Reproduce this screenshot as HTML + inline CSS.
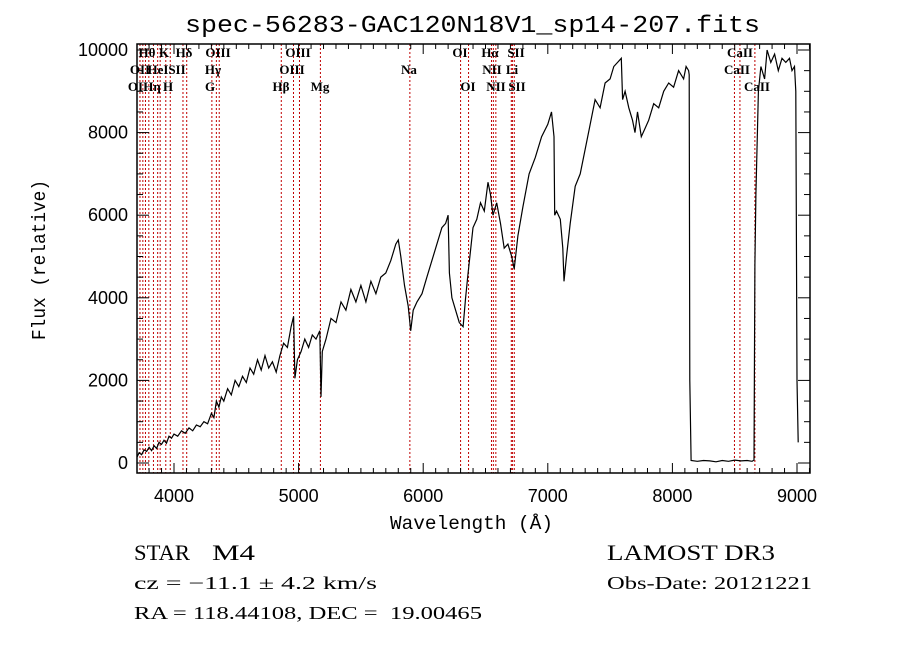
<!DOCTYPE html>
<html><head><meta charset="utf-8"><style>
body{margin:0;background:#fff;width:900px;height:649px;overflow:hidden}
svg{display:block}
</style></head><body>
<svg id="c" width="900" height="649" xmlns="http://www.w3.org/2000/svg"></svg>
<script>
const wave=[3705,3720,3740,3760,3780,3800,3820,3840,3860,3880,3900,3920,3940,3960,3980,4000,4030,4060,4090,4120,4150,4180,4210,4240,4270,4300,4320,4340,4360,4380,4400,4430,4460,4490,4520,4550,4580,4610,4640,4670,4700,4730,4760,4790,4820,4850,4880,4910,4940,4960,4970,4990,5020,5050,5080,5110,5140,5170,5180,5190,5220,5260,5300,5340,5380,5420,5460,5500,5540,5580,5620,5660,5700,5740,5780,5800,5820,5850,5880,5900,5920,5950,5990,6030,6070,6110,6150,6180,6200,6210,6230,6260,6290,6320,6340,6360,6400,6430,6460,6490,6520,6540,6560,6590,6620,6650,6680,6710,6730,6760,6800,6850,6900,6950,7000,7030,7050,7055,7070,7100,7120,7130,7150,7180,7220,7260,7300,7340,7380,7420,7460,7500,7530,7560,7590,7600,7620,7650,7680,7700,7720,7750,7780,7810,7850,7890,7930,7970,8010,8050,8090,8110,8130,8135,8140,8150,8200,8250,8300,8350,8400,8450,8500,8550,8600,8640,8655,8662,8670,8690,8710,8740,8760,8790,8820,8850,8880,8910,8940,8960,8980,8990,9000,9010];
const flux=[150,250,200,320,280,380,300,420,350,500,450,550,480,650,600,700,650,780,720,850,780,920,880,1000,950,1200,1100,1500,1350,1600,1500,1800,1650,2000,1850,2100,1950,2300,2150,2500,2250,2600,2300,2450,2200,2600,2900,2800,3300,3550,2050,2500,2700,3000,2800,3100,3000,3200,1600,2700,3000,3500,3400,3900,3700,4200,3900,4300,3900,4400,4100,4500,4600,4900,5300,5400,5000,4300,3800,3200,3700,3900,4100,4500,4900,5300,5700,5800,6000,4600,4000,3700,3400,3300,4000,4600,5700,5900,6300,6100,6800,6500,6000,6300,5800,5200,5300,5000,4700,5500,6200,7000,7400,7900,8200,8500,7900,6000,6100,5900,5200,4400,5000,5800,6700,7000,7600,8200,8800,8600,9200,9300,9600,9700,9800,8800,9000,8600,8300,8000,8500,7900,8100,8300,8700,8600,9000,9200,9100,9500,9300,9600,9500,9400,2000,60,40,60,50,30,60,40,70,50,60,40,70,4800,6500,9000,9600,9300,10000,9700,9900,9500,9800,9700,9800,9500,9600,9000,2000,500];
const lineWaves=[3727,3750,3771,3798,3835,3869,3889,3934,3970,4072,4102,4304,4340,4363,4861,4959,5007,5175,5893,6300,6364,6548,6563,6583,6707,6716,6731,8498,8542,8662];
const labels=[["H&#952;",147,57],["K",164,57],["H&#948;",184,57],["OIII",218,57],["OIII",298,57],["OI",460,57],["H&#945;",490,57],["SII",516,57],["CaII",740,57],
["OII",140,74],["HeI",158,74],["SII",177,74],["H&#947;",213,74],["OIII",292,74],["Na",409,74],["NII",492,74],["Li",512,74],["CaII",737,74],
["OII",138,91],["H&#951;",152,91],["H",168,91],["G",210,91],["H&#946;",281,91],["Mg",320,91],["OI",468,91],["NII",496,91],["SII",517,91],["CaII",757,91]];
const xTicks=[4000,5000,6000,7000,8000,9000];
const yTicks=[0,2000,4000,6000,8000,10000];
const L=137,R=810,T=44,B=473;
const X=w=>174+(w-4000)*0.1246, Y=f=>463-f*0.0413;
const s=document.getElementById('c');const NS='http://www.w3.org/2000/svg';
function mk(t,a,p){const e=document.createElementNS(NS,t);for(const k in a)e.setAttribute(k,a[k]);(p||s).appendChild(e);return e;}
lineWaves.forEach(w=>{const e=mk('line',{x1:X(w),x2:X(w),y1:T,y2:B,stroke:'#c00000','stroke-width':1,'stroke-dasharray':'2,2'});

});
labels.forEach(l=>{const e=mk('text',{x:l[1],y:l[2],'font-size':13,'text-anchor':'middle',style:'font-family:"Liberation Serif",serif;font-weight:bold'});e.innerHTML=l[0];

});
const p=mk('polyline',{points:wave.map((w,i)=>X(w).toFixed(1)+','+Y(flux[i]).toFixed(1)).join(' '),fill:'none',stroke:'#000','stroke-width':1.2});


const f=mk('rect',{x:L,y:T,width:R-L,height:B-T,fill:'none',stroke:'#000','stroke-width':1.5});


for(let w=3800;w<=9100;w+=100){const maj=w%1000==0,h=maj?10:5;
mk('line',{x1:X(w),x2:X(w),y1:B,y2:B-h,stroke:'#000'});mk('line',{x1:X(w),x2:X(w),y1:T,y2:T+h,stroke:'#000'});}
xTicks.forEach(v=>{const e=mk('text',{x:X(v),y:502,'font-size':18,'text-anchor':'middle',style:'font-family:"Liberation Sans",sans-serif'});e.textContent=v;

});
for(let v=0;v<=10000;v+=500){const h=v%2000==0?12:6;
mk('line',{x1:L,x2:L+h,y1:Y(v),y2:Y(v),stroke:'#000'});mk('line',{x1:R,x2:R-h,y1:Y(v),y2:Y(v),stroke:'#000'});}
yTicks.forEach(v=>{const e=mk('text',{x:128,y:Y(v)+6,'font-size':18,'text-anchor':'end',style:'font-family:"Liberation Sans",sans-serif'});e.textContent=v;

});
</script>
<svg width="900" height="649" style="position:absolute;left:0;top:0;font-family:'Liberation Serif',serif">
<text x="185" y="32" font-size="24" textLength="575" lengthAdjust="spacingAndGlyphs" style="font-family:'Liberation Mono',monospace">spec-56283-GAC120N18V1_sp14-207.fits</text>
<text x="390" y="529" font-size="19" textLength="163" lengthAdjust="spacingAndGlyphs" style="font-family:'Liberation Mono',monospace">Wavelength (Å)</text>
<text transform="translate(45,340) rotate(-90)" font-size="19" textLength="160" lengthAdjust="spacingAndGlyphs" style="font-family:'Liberation Mono',monospace">Flux (relative)</text>
<text x="134" y="560" font-size="22" textLength="56" lengthAdjust="spacingAndGlyphs">STAR</text>
<text x="212" y="560" font-size="22" textLength="43" lengthAdjust="spacingAndGlyphs">M4</text>
<text x="607" y="560" font-size="22" textLength="168" lengthAdjust="spacingAndGlyphs">LAMOST DR3</text>
<text x="134" y="589" font-size="18" textLength="243" lengthAdjust="spacingAndGlyphs">cz = −11.1 ± 4.2 km/s</text>
<text x="607" y="589" font-size="18" textLength="205" lengthAdjust="spacingAndGlyphs">Obs-Date: 20121221</text>
<text x="134" y="619" font-size="18" textLength="348" lengthAdjust="spacingAndGlyphs" xml:space="preserve">RA = 118.44108, DEC =  19.00465</text>
</svg>
</body></html>
